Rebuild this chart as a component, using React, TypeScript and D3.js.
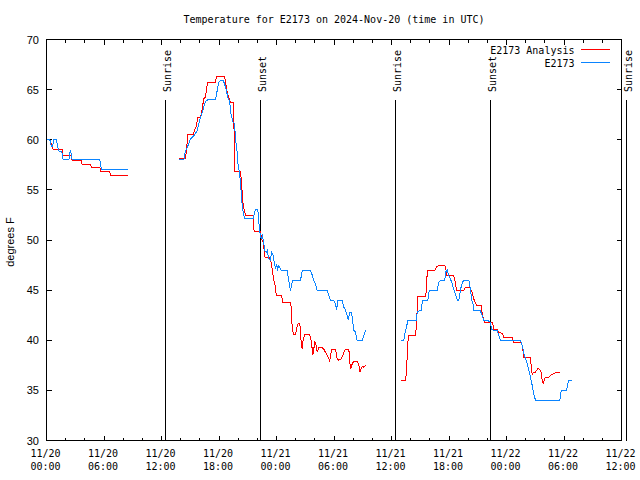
import React from "react";
import * as d3 from "d3";

const chartTitle = "Temperature for E2173 on 2024-Nov-20 (time in UTC)";
const yAxisLabel = "degrees F";
const seriesNames = ["E2173 Analysis", "E2173"];
const seriesColors = ["#ff0000", "#0a84ff"];
const startUtc = Date.UTC(2024, 10, 20, 0, 0);
const endUtc = Date.UTC(2024, 10, 22, 12, 0);
const yDomain = [30, 70];
const yTickValues = [30, 35, 40, 45, 50, 55, 60, 65, 70];

// sun events (hours after 11/20 00:00 UTC)
const sunEventLabels = ["Sunrise", "Sunset", "Sunrise", "Sunset", "Sunrise"];
const sunEventHours = [12.42, 22.33, 36.42, 46.33, 60.5];

// E2173 Analysis (red), hours after 11/20 00:00 UTC
const analysisHours1 = [0, 0.35, 0.42, 0.52, 0.7, 1.64, 1.7, 2.57, 2.68, 3.62, 3.72, 4.59, 4.77, 5.57, 5.67, 6.57, 6.75, 8.52];
const analysisTemps1 = [60, 60, 59.8, 59.5, 59, 59, 58.4, 58.4, 57.9, 57.9, 57.5, 57.5, 57.2, 57.2, 56.8, 56.8, 56.4, 56.4];

const analysisHours2 = [13.81, 14.5, 14.61, 14.74, 15.31, 15.44, 15.65, 15.79, 16.07, 16.25, 16.41, 16.59, 16.7, 16.83, 17.64, 17.74, 18.57, 18.68, 18.86, 19.02, 19.2, 19.48, 19.55, 19.62, 19.65, 20.24, 20.32, 20.42, 20.53, 20.77, 21.57, 21.63, 21.71, 22.33, 22.44, 22.57, 22.68, 22.78, 23.03, 23.2, 23.37, 23.55, 23.72, 23.9, 23.97, 24.52, 24.66, 25.46, 25.57, 25.64, 25.81, 25.98, 26.09, 26.26, 26.43, 26.5, 26.58, 26.68, 26.79, 26.95, 27.37, 27.55, 27.65, 27.79, 27.89, 28.0, 28.14, 28.25, 28.42, 28.7, 28.94, 29.11, 29.29, 29.53, 29.64, 29.74, 30.16, 30.33, 30.5, 30.78, 30.92, 31.02, 31.2, 31.55, 31.65, 31.76, 31.9, 32.07, 32.42, 32.59, 32.73, 32.87, 33.01, 33.11, 33.29];
const analysisTemps2 = [58.1, 58.1, 59, 60.5, 60.5, 60.9, 61.4, 62.25, 62.25, 63.1, 64.1, 64.25, 65.1, 65.75, 65.75, 66.35, 66.35, 65.75, 64.75, 64.25, 63.75, 63.75, 61.75, 58.75, 56.8, 56.8, 56.1, 54.77, 53.4, 52.45, 52.45, 51.1, 50.8, 50.8, 50.1, 49.9, 49.3, 48.3, 48.2, 48.3, 48.1, 47.1, 46.0, 45.3, 44.5, 44.5, 43.8, 43.8, 43.0, 41.1, 40.6, 40.6, 41.1, 41.7, 41.6, 41.1, 39.6, 39.1, 40.1, 40.6, 40.6, 40.3, 39.8, 38.5, 39.1, 39.9, 39.5, 38.8, 39.3, 39.3, 39.1, 38.8, 38.5, 38.0, 38.3, 39.1, 39.1, 38.15, 38.0, 38.15, 38.5, 38.8, 39.1, 39.1, 37.8, 37.15, 37.65, 37.9, 37.9, 37.5, 36.8, 37.3, 37.4, 37.3, 37.5];

const analysisHours3 = [37.04, 37.46, 37.57, 37.64, 37.7, 37.81, 38.51, 38.61, 38.68, 38.75, 39.55, 39.66, 39.73, 40.52, 40.7, 40.94, 41.53, 41.64, 41.74, 41.78, 42.5, 42.61, 42.79, 43.55, 43.72, 44.17, 44.42, 44.59, 44.87, 45.36, 45.47, 45.71, 46.51, 46.61, 46.68, 47.03, 47.2, 47.55, 47.72, 48.6, 48.77, 49.46, 49.64, 49.81, 50.51, 50.58, 50.68, 50.85, 51.03, 51.13, 51.27, 51.48, 51.62, 51.72, 51.83, 51.97, 52.07, 52.42, 52.59, 52.77, 52.94, 53.12, 53.56];
const analysisTemps3 = [36.0, 36.0, 36.8, 38.5, 39.8, 40.5, 40.5, 41.5, 43.1, 44.4, 44.4, 45.1, 47.0, 47.0, 47.3, 47.45, 47.45, 47.3, 46.6, 46.45, 46.45, 45.96, 44.96, 44.96, 45.3, 45.3, 44.8, 44.1, 43.5, 43.5, 42.6, 41.8, 41.8, 41.5, 41.1, 41.1, 40.8, 40.7, 40.3, 40.3, 39.8, 39.8, 39.5, 38.3, 38.3, 37.3, 36.6, 36.8, 36.8, 37.0, 37.15, 37.1, 36.8, 36.0, 35.7, 36.15, 36.3, 36.3, 36.5, 36.6, 36.65, 36.75, 36.75];

// E2173 observations (blue)
const observedHours1 = [0, 0.35, 0.5, 0.63, 0.76, 1.04, 1.18, 1.32, 1.6, 1.74, 2.33, 2.5, 2.57, 2.68, 5.57, 5.7, 5.77, 8.52];
const observedTemps1 = [60, 60, 59.3, 59.3, 60, 60, 59.2, 58.8, 58.8, 58, 58, 59, 58.6, 58, 58, 57.2, 57, 57];

const observedHours2 = [13.81, 14.33, 14.43, 14.61, 14.85, 15.03, 15.2, 15.37, 15.73, 15.89, 16.07, 16.25, 16.41, 16.59, 16.83, 17.64, 17.81, 17.98, 18.16, 18.44, 18.57, 18.78, 18.92, 19.13, 19.2, 19.38, 19.48, 19.62, 19.72, 19.9, 20.0, 20.14, 20.24, 20.32, 20.42, 20.53, 20.66, 21.57, 21.71, 21.81, 22.05, 22.15, 22.26, 22.4, 22.54, 22.68, 22.78, 22.93, 23.03, 23.13, 23.2, 23.37, 23.48, 23.62, 23.76, 23.9, 24.0, 24.11, 24.24, 24.42, 24.52, 25.12, 25.22, 25.36, 25.46, 25.57, 25.7, 26.5, 26.61, 26.68, 27.55, 27.73, 27.89, 28.07, 28.25, 29.29, 29.46, 29.64, 29.98, 30.16, 30.26, 30.4, 30.86, 31.02, 31.2, 31.48, 31.65, 31.83, 31.96, 32.07, 32.24, 32.42, 32.94, 33.11, 33.29];
const observedTemps2 = [58.0, 58.0, 58.6, 59.1, 59.6, 60.1, 60.25, 60.4, 60.9, 61.6, 62.25, 62.75, 63.25, 63.8, 64.0, 64.0, 64.9, 65.75, 65.9, 65.9, 65.6, 64.9, 64.2, 63.75, 62.75, 62.1, 61.75, 61.6, 60.1, 58.75, 57.4, 56.8, 55.6, 54.77, 53.4, 52.8, 52.1, 52.1, 52.8, 53.05, 53.05, 51.8, 50.8, 50.1, 50.45, 49.6, 48.95, 48.8, 48.95, 48.45, 48.1, 47.95, 48.8, 48.6, 47.8, 47.1, 47.6, 47.1, 47.45, 47.1, 46.95, 46.95, 46.3, 45.5, 44.96, 45.5, 46.0, 46.0, 46.5, 46.95, 46.95, 46.5, 46.0, 45.6, 44.96, 44.96, 44.5, 44.0, 44.0, 43.6, 43.0, 43.96, 43.96, 43.3, 43.0, 42.1, 42.8, 42.8, 41.8, 41.0, 40.8, 39.98, 39.98, 40.5, 41.0];

const observedHours3 = [37.04, 37.28, 37.39, 37.57, 37.7, 38.61, 38.68, 38.85, 39.1, 39.21, 39.31, 39.79, 39.9, 40.0, 40.77, 40.94, 41.11, 41.56, 41.64, 41.81, 41.98, 42.16, 42.34, 42.5, 42.68, 42.86, 43.02, 43.13, 43.3, 43.48, 43.62, 44.07, 44.24, 44.35, 44.53, 44.59, 45.22, 45.47, 45.63, 45.99, 46.33, 46.44, 46.68, 47.03, 47.2, 47.38, 49.46, 49.64, 49.81, 49.98, 50.16, 50.33, 50.51, 50.68, 50.85, 51.03, 53.56, 53.71, 54.26, 54.39, 54.5, 54.86];
const observedTemps3 = [40.0, 40.0, 40.65, 41.3, 42.0, 42.0, 42.8, 42.9, 43.0, 43.8, 44.0, 44.0, 44.8, 44.96, 44.96, 45.8, 45.96, 45.96, 46.8, 47.0, 46.45, 46.1, 45.6, 45.1, 44.6, 44.0, 44.0, 44.6, 45.5, 45.9, 45.96, 45.96, 45.1, 44.1, 43.5, 43.0, 43.0, 42.5, 42.0, 42.0, 41.8, 41.1, 41.0, 41.0, 40.5, 39.98, 39.98, 39.5, 38.65, 38.15, 37.65, 37.0, 36.3, 35.5, 34.65, 34.0, 34.0, 35.0, 35.0, 35.65, 36.0, 36.0];

const seriesSegments = [
  [
    [analysisHours1, analysisTemps1],
    [analysisHours2, analysisTemps2],
    [analysisHours3, analysisTemps3],
  ],
  [
    [observedHours1, observedTemps1],
    [observedHours2, observedTemps2],
    [observedHours3, observedTemps3],
  ],
];

const W = 640;
const H = 480;
const M = { left: 46.5, right: 621.5, top: 39.5, bottom: 440.5 };
const mono = "'DejaVu Sans Mono', monospace";
const sans = "'Liberation Sans', Arial, sans-serif";

const hourToDate = (h: number) => new Date(startUtc + h * 3600e3);

export default function App() {
  const x = d3.scaleUtc().domain([new Date(startUtc), new Date(endUtc)]).range([M.left, M.right]);
  const y = d3.scaleLinear().domain(yDomain).range([M.bottom, M.top]);

  const majorX = x.ticks(d3.utcHour.every(6) as d3.TimeInterval);
  const minorX = x.ticks(d3.utcHour.every(2) as d3.TimeInterval);
  const fmtDate = d3.utcFormat("%m/%d");
  const fmtTime = d3.utcFormat("%H:%M");

  const line = d3
    .line<[number, number]>()
    .x((d) => x(hourToDate(d[0])))
    .y((d) => y(d[1]));

  const majorLen = 5;
  const minorLen = 3;

  return (
    <svg
      width={W}
      height={H}
      style={{ position: "absolute", left: 0, top: 0, background: "#fff" }}
    >
      <rect x={0} y={0} width={W} height={H} fill="#fff" />
      {/* title */}
      <text
        x={(M.left + M.right) / 2}
        y={23}
        textAnchor="middle"
        fontFamily={mono}
        fontSize={10}
        fill="#000"
      >
        {chartTitle}
      </text>

      {/* ticks */}
      <g stroke="#000" strokeWidth={1} shapeRendering="crispEdges">
        {minorX.map((d, i) => (
          <g key={"mx" + i}>
            <line x1={x(d)} x2={x(d)} y1={M.bottom} y2={M.bottom - minorLen} />
            <line x1={x(d)} x2={x(d)} y1={M.top} y2={M.top + minorLen} />
          </g>
        ))}
        {majorX.map((d, i) => (
          <g key={"Mx" + i}>
            <line x1={x(d)} x2={x(d)} y1={M.bottom} y2={M.bottom - majorLen} />
            <line x1={x(d)} x2={x(d)} y1={M.top} y2={M.top + majorLen} />
          </g>
        ))}
        {yTickValues.map((v) => (
          <g key={"y" + v}>
            <line x1={M.left} x2={M.left + majorLen} y1={y(v)} y2={y(v)} />
            <line x1={M.right} x2={M.right - majorLen} y1={y(v)} y2={y(v)} />
          </g>
        ))}
      </g>

      {/* y tick labels */}
      {yTickValues.map((v) => (
        <text
          key={"yl" + v}
          x={39}
          y={y(v) + 4}
          textAnchor="end"
          fontFamily={sans}
          fontSize={11}
          fill="#000"
        >
          {v}
        </text>
      ))}

      {/* x tick labels */}
      {majorX.map((d, i) => (
        <text
          key={"xl" + i}
          x={x(d)}
          textAnchor="middle"
          fontFamily={mono}
          fontSize={10}
          fill="#000"
        >
          <tspan x={x(d) - 1} y={457}>
            {fmtDate(d)}
          </tspan>
          <tspan x={x(d) - 1} y={470}>
            {fmtTime(d)}
          </tspan>
        </text>
      ))}

      {/* y axis label */}
      <text
        transform={`translate(14,242) rotate(-90)`}
        textAnchor="middle"
        fontFamily={sans}
        fontSize={11}
        fill="#000"
      >
        {yAxisLabel}
      </text>

      {/* sun event lines */}
      {sunEventHours.map((h, i) => {
        const sx = Math.round(x(hourToDate(h)) - 0.5) + 0.5;
        return (
          <g key={"sun" + i}>
            <line
              x1={sx}
              x2={sx}
              y1={99.5}
              y2={M.bottom}
              stroke="#000"
              strokeWidth={1}
              shapeRendering="crispEdges"
            />
            <text
              transform={`translate(${sx + 5},92) rotate(-90)`}
              fontFamily={mono}
              fontSize={10}
              fill="#000"
            >
              {sunEventLabels[i]}
            </text>
          </g>
        );
      })}

      {/* data */}
      {seriesSegments.map((segs, si) => (
        <g key={"s" + si}>
          {segs.map(([hs, ts], gi) => (
            <path
              key={gi}
              d={line(hs.map((h, k) => [h, ts[k]] as [number, number])) || ""}
              fill="none"
              stroke={seriesColors[si]}
              strokeWidth={1}
              shapeRendering="crispEdges"
            />
          ))}
        </g>
      ))}

      {/* border */}
      <rect
        x={M.left}
        y={M.top}
        width={M.right - M.left}
        height={M.bottom - M.top}
        fill="none"
        stroke="#000"
        strokeWidth={1}
        shapeRendering="crispEdges"
      />

      {/* legend */}
      {seriesNames.map((name, i) => (
        <g key={"lg" + i}>
          <text
            x={574.5}
            y={54 + i * 13}
            textAnchor="end"
            fontFamily={mono}
            fontSize={10}
            fill="#000"
          >
            {name}
          </text>
          <line
            x1={581}
            x2={610}
            y1={49.5 + i * 13}
            y2={49.5 + i * 13}
            stroke={seriesColors[i]}
            strokeWidth={1}
            shapeRendering="crispEdges"
          />
        </g>
      ))}
    </svg>
  );
}
